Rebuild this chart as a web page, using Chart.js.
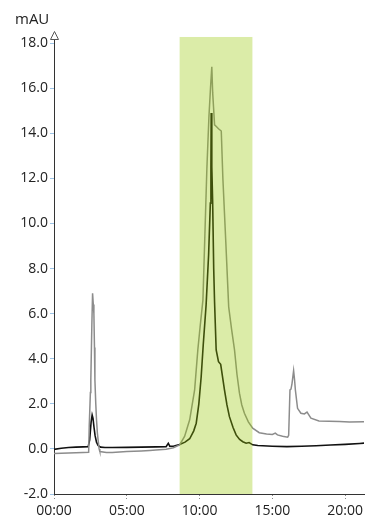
<!DOCTYPE html>
<html>
<head>
<meta charset="utf-8">
<script src="https://cdn.jsdelivr.net/npm/chart.js@4/dist/chart.umd.min.js"></script>
<style>
  html, body { margin: 0; padding: 0; background: #ffffff; }
  #wrap { width: 365px; height: 517px; position: relative; }
</style>
</head>
<body>
<div id="wrap"><canvas id="c" width="365" height="517"></canvas></div>
<script>
// ---- Data (time in minutes, signal in mAU) ----
const yUnit = "mAU";
const xTickValues = [0, 5, 10, 15, 20];
const xTickLabels = ["00:00", "05:00", "10:00", "15:00", "20:00"];
const yTickValues = [-2, 0, 2, 4, 6, 8, 10, 12, 14, 16, 18];

// Highlighted fraction window (minutes)
const bandStart = 8.63;
const bandEnd = 13.63;

// Dark trace
const blackTime = [0.0, 0.5, 1.0, 1.5, 2.0, 2.35, 2.45, 2.55, 2.62, 2.68, 2.75, 2.82, 2.92, 3.03, 3.2, 3.5, 4.0, 5.0, 6.0, 7.0, 7.7, 7.85, 7.95, 8.2, 8.63, 9.0, 9.32, 9.6, 9.77, 9.95, 10.11, 10.25, 10.45, 10.62, 10.74, 10.78, 10.80, 10.84, 10.90, 10.97, 11.03, 11.14, 11.3, 11.45, 11.71, 11.88, 12.05, 12.3, 12.51, 12.75, 12.97, 13.2, 13.4, 13.65, 14.0, 15.0, 16.0, 17.0, 18.0, 19.0, 20.0, 21.0, 21.4];
const blackValue = [-0.02, 0.03, 0.06, 0.08, 0.09, 0.10, 0.4, 1.2, 1.5, 1.35, 0.95, 0.6, 0.3, 0.15, 0.08, 0.06, 0.06, 0.07, 0.08, 0.09, 0.1, 0.25, 0.12, 0.12, 0.2, 0.3, 0.45, 0.8, 1.14, 2.0, 3.2, 4.6, 6.4, 8.6, 10.9, 12.5, 14.9, 12.5, 10.9, 8.0, 6.5, 4.39, 3.87, 3.75, 2.62, 1.95, 1.43, 0.95, 0.62, 0.42, 0.32, 0.25, 0.28, 0.18, 0.15, 0.12, 0.1, 0.12, 0.14, 0.17, 0.2, 0.24, 0.26];

// Grey trace
const greyTime = [0.0, 1.0, 2.0, 2.38, 2.42, 2.5, 2.53, 2.6, 2.65, 2.7, 2.74, 2.78, 2.81, 2.87, 2.92, 2.98, 3.03, 3.1, 3.15, 3.6, 4.0, 5.0, 6.0, 6.58, 7.0, 7.7, 8.2, 8.63, 8.97, 9.32, 9.66, 9.88, 10.05, 10.23, 10.5, 10.64, 10.75, 10.84, 10.9, 11.03, 11.15, 11.3, 11.49, 11.6, 11.8, 12.0, 12.2, 12.4, 12.57, 12.74, 12.9, 13.08, 13.35, 13.65, 14.1, 14.6, 15.0, 15.2, 15.35, 15.7, 16.05, 16.12, 16.21, 16.28, 16.35, 16.46, 16.52, 16.58, 16.73, 16.96, 17.2, 17.38, 17.65, 18.2, 19.6, 20.3, 21.4];
const greyValue = [-0.2, -0.18, -0.16, -0.15, 1.0, 2.5, 3.06, 5.5, 6.9, 6.4, 6.0, 4.5, 3.06, 2.0, 1.29, 0.7, 0.4, 0.0, -0.12, -0.16, -0.16, -0.12, -0.09, -0.07, -0.05, -0.01, 0.05, 0.18, 0.55, 1.29, 2.62, 4.39, 5.5, 6.6, 12.4, 14.7, 16.0, 16.95, 15.8, 14.37, 14.3, 14.2, 14.1, 12.0, 9.2, 6.3, 5.3, 4.39, 3.3, 2.47, 1.95, 1.58, 1.2, 0.92, 0.72, 0.66, 0.64, 0.7, 0.62, 0.56, 0.52, 0.6, 2.62, 2.65, 2.9, 3.47, 3.1, 2.62, 1.8, 1.58, 1.55, 1.63, 1.36, 1.24, 1.21, 1.19, 1.2];

const toPoints = (xs, ys) => xs.map((x, i) => ({ x: x, y: ys[i] }));

const FONT = "'Open Sans', 'DejaVu Sans', sans-serif";

const decorPlugin = {
  id: 'decor',
  afterDatasetsDraw(chart) {
    const { ctx, scales: { x, y }, chartArea } = chart;
    // highlighted window drawn over the traces (translucent)
    const x0 = x.getPixelForValue(bandStart);
    const x1 = x.getPixelForValue(bandEnd);
    const yTop = y.getPixelForValue(18.27);
    const yBot = y.getPixelForValue(-2);
    ctx.save();
    ctx.fillStyle = 'rgba(150, 200, 0, 0.34)';
    ctx.fillRect(x0, yTop, x1 - x0, yBot - yTop);
    ctx.restore();
  },
  afterDraw(chart) {
    const { ctx, chartArea } = chart;
    ctx.save();
    // arrow on the y axis top
    const ax = chartArea.left + 0.5;
    const tip = chartArea.top - 7.5;
    ctx.beginPath();
    ctx.moveTo(ax, tip);
    ctx.lineTo(ax - 4, chartArea.top + 0.5);
    ctx.lineTo(ax + 4, chartArea.top + 0.5);
    ctx.closePath();
    ctx.fillStyle = '#ffffff';
    ctx.fill();
    ctx.strokeStyle = '#555555';
    ctx.lineWidth = 1;
    ctx.stroke();
    // unit label
    ctx.fillStyle = '#222222';
    ctx.font = "15px " + FONT;
    ctx.textAlign = 'left';
    ctx.textBaseline = 'middle';
    ctx.fillText(yUnit, 15, 20);
    ctx.restore();
  }
};

new Chart(document.getElementById('c'), {
  type: 'line',
  data: {
    datasets: [
      {
        label: 'grey',
        data: toPoints(greyTime, greyValue),
        borderColor: '#8c8c8c',
        borderWidth: 1.5,
        pointRadius: 0,
        tension: 0,
        fill: false
      },
      {
        label: 'black',
        data: toPoints(blackTime, blackValue),
        borderColor: '#111111',
        borderWidth: 1.6,
        pointRadius: 0,
        tension: 0,
        fill: false
      }
    ]
  },
  options: {
    responsive: false,
    devicePixelRatio: 1,
    animation: false,
    parsing: true,
    layout: { padding: { top: 39, right: 0, left: 0, bottom: 0 } },
    plugins: {
      legend: { display: false },
      tooltip: { enabled: false }
    },
    scales: {
      x: {
        type: 'linear',
        min: 0,
        max: 21.3,
        afterFit: (s) => { s.height = 23; },
        afterBuildTicks: (s) => { s.ticks = xTickValues.map(v => ({ value: v })); },
        ticks: {
          autoSkip: false,
          maxRotation: 0,
          padding: 2,
          color: '#222222',
          font: { family: FONT, size: 14 },
          callback: (v) => { const i = xTickValues.indexOf(v); return i >= 0 ? xTickLabels[i] : ''; }
        },
        grid: {
          drawOnChartArea: false,
          drawTicks: true,
          tickLength: 7,
          tickColor: '#888888',
          tickBorderDash: [1, 2],
          tickWidth: 1
        },
        border: { display: true, color: '#333333', width: 1 }
      },
      y: {
        type: 'linear',
        min: -2,
        max: 18.18,
        afterFit: (s) => { s.width = 54; },
        afterBuildTicks: (s) => { s.ticks = yTickValues.map(v => ({ value: v })); },
        ticks: {
          autoSkip: false,
          padding: 2,
          color: '#222222',
          font: { family: FONT, size: 14 },
          callback: (v) => Number(v).toFixed(1)
        },
        grid: {
          drawOnChartArea: false,
          drawTicks: true,
          tickLength: 4,
          tickColor: '#9cc3e6',
          tickWidth: 1
        },
        border: { display: true, color: '#333333', width: 1 }
      }
    }
  },
  plugins: [decorPlugin]
});
</script>
</body>
</html>
